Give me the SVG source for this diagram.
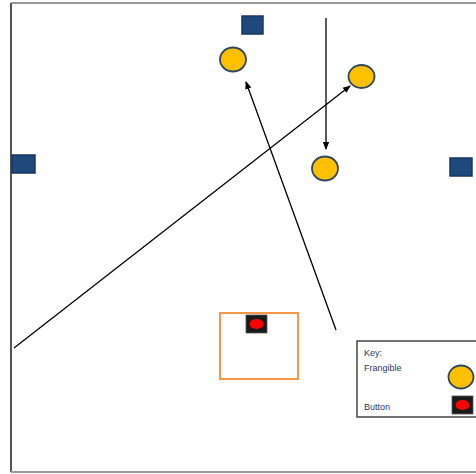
<svg xmlns="http://www.w3.org/2000/svg" width="476" height="474" viewBox="0 0 476 474">
<style>
.sq{fill:#1f497d;stroke:#17375e;stroke-width:1.5}
.fr{fill:#ffc000;stroke:#2f4561;stroke-width:1.8}
.ln{stroke:#000;stroke-width:1.3;fill:none}
.bt{fill:#1a1a1a;stroke:#555;stroke-width:0.8}
.rd{fill:#ff0000}
.tx{font-family:"Liberation Sans",Arial,sans-serif;font-size:9px;fill:#1f3864}
</style>
<defs>
<marker id="ah" markerWidth="8" markerHeight="8" refX="7" refY="4" orient="auto" markerUnits="userSpaceOnUse">
<path d="M0,0.8 L8,4 L0,7.2 z" fill="#000"/>
</marker>
</defs>
<rect width="476" height="474" fill="#fff"/>
<g id="frame">
<line x1="11" y1="3" x2="476" y2="3" stroke="#999" stroke-width="2"/>
<line x1="11" y1="3" x2="11" y2="472" stroke="#555" stroke-width="2"/>
<line x1="11" y1="472" x2="476" y2="472" stroke="#999" stroke-width="2"/>
</g>
<g id="connectors">
<line class="ln" x1="326" y1="18" x2="326" y2="149" marker-end="url(#ah)"/>
<line class="ln" x1="14" y1="348" x2="350" y2="86" marker-end="url(#ah)"/>
<line class="ln" x1="336" y1="330" x2="246" y2="82" marker-end="url(#ah)"/>
</g>
<g id="sq-top"><rect class="sq" x="242" y="16" width="21" height="18"/></g>
<g id="sq-left"><rect class="sq" x="12" y="155" width="23" height="18"/></g>
<g id="sq-right"><rect class="sq" x="450" y="158" width="22" height="18"/></g>
<g id="fr-1"><ellipse class="fr" cx="233" cy="59.5" rx="13" ry="12"/></g>
<g id="fr-2"><ellipse class="fr" cx="361.5" cy="76.5" rx="13" ry="11.5"/></g>
<g id="fr-3"><ellipse class="fr" cx="325" cy="168.5" rx="13" ry="12"/></g>
<g id="zone"><rect x="220" y="313" width="78" height="66" fill="none" stroke="#f79646" stroke-width="2"/></g>
<g id="button">
<rect class="bt" x="246" y="315" width="21" height="18"/>
<ellipse class="rd" cx="256.5" cy="324" rx="7" ry="5"/>
</g>
<g id="key">
<rect x="357" y="341" width="121" height="76" fill="#fff" stroke="#444" stroke-width="1.5"/>
<text class="tx" x="364" y="356">Key:</text>
<text class="tx" x="364" y="371">Frangible</text>
<text class="tx" x="364" y="410">Button</text>
<ellipse class="fr" cx="461" cy="377" rx="12.5" ry="11.5"/>
<rect class="bt" x="452" y="396" width="21" height="18"/>
<ellipse class="rd" cx="462.5" cy="405" rx="7" ry="5"/>
</g>
</svg>
